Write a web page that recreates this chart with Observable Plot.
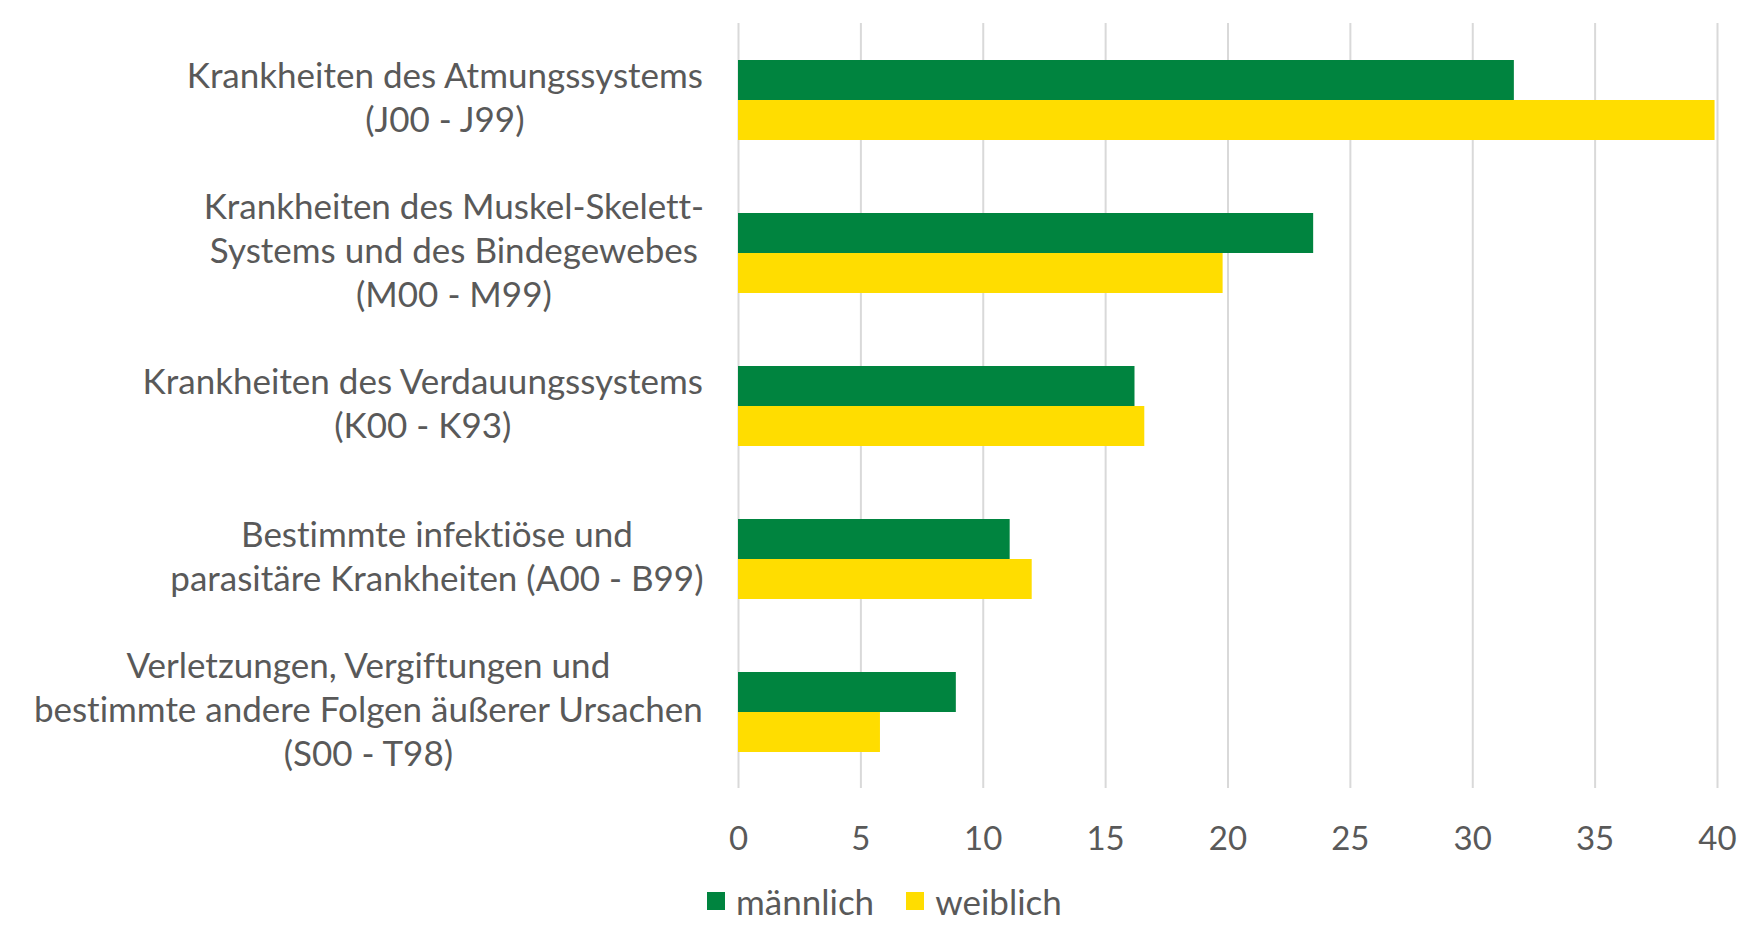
<!DOCTYPE html>
<html>
<head>
<meta charset="utf-8">
<script src="https://cdn.jsdelivr.net/npm/d3@7"></script>
<script src="https://cdn.jsdelivr.net/npm/@observablehq/plot@0.6"></script>
<style>
  html, body { margin: 0; padding: 0; background: #ffffff; }
  #chart svg { display: block; font-variant-ligatures: none; }
  #legend {
    display: flex; align-items: center; justify-content: flex-start;
    margin-left: 707px; margin-top: 13px; height: 36px;
    font-family: Lato, "Open Sans", sans-serif; font-size: 35px; color: #595959;
    font-variant-ligatures: none;
  }
  #legend .item { display: flex; align-items: center; margin-right: 32px; }
  #legend .sw { width: 18px; height: 18px; margin-right: 11px; display: inline-block; }
</style>
</head>
<body>
<div id="chart"></div>
<div id="legend"></div>
<script>
// ---- data ----
const categories = [
  "Krankheiten des Atmungssystems\n(J00 - J99)",
  "Krankheiten des Muskel-Skelett-\nSystems und des Bindegewebes\n(M00 - M99)",
  "Krankheiten des Verdauungssystems\n(K00 - K93)",
  "Bestimmte infektiöse und\nparasitäre Krankheiten (A00 - B99)",
  "Verletzungen, Vergiftungen und\nbestimmte andere Folgen äußerer Ursachen\n(S00 - T98)"
];
const series = ["männlich", "weiblich"];
const maennlich = [31.7, 23.5, 16.2, 11.1, 8.9];
const weiblich = [39.9, 19.8, 16.6, 12.0, 5.8];
const xTicks = [0, 5, 10, 15, 20, 25, 30, 35, 40];
const seriesColors = ["#00843F", "#FFDD00"];

// ---- table for Plot ----
const table = categories.flatMap((c, i) => [
  {category: c, sex: series[0], value: maennlich[i]},
  {category: c, sex: series[1], value: weiblich[i]}
]);

const FONT = 35;
const TICKFONT = 33;
const FONTFAMILY = "Lato";
const TEXT = "#595959";
const ctx = document.createElement("canvas").getContext("2d");
ctx.font = `${FONT}px ${FONTFAMILY}`;
const blockWidth = c => Math.max(...c.split("\n").map(l => ctx.measureText(l).width));
const labelGap = 35;

const labelMarks = categories.map(c => Plot.text([c], {
  fy: d => d,
  text: d => d,
  frameAnchor: "left",
  textAnchor: "middle",
  lineAnchor: "middle",
  lineHeight: 43.8 / FONT,
  dx: -(labelGap + blockWidth(c) / 2),
  dy: -4,
  fontSize: FONT,
  fill: TEXT
}));

const chart = Plot.plot({
  width: 1760,
  height: 870,
  marginLeft: 738,
  marginRight: 43,
  marginTop: 22,
  marginBottom: 81,
  style: {fontFamily: FONTFAMILY, fontSize: TICKFONT + "px", color: TEXT, background: "#ffffff"},
  x: {domain: [0, 40], ticks: xTicks, tickSize: 0, tickPadding: 38, label: null},
  y: {domain: series, paddingInner: 0, paddingOuter: 0.903, axis: null},
  fy: {domain: categories, padding: 0, axis: null},
  color: {domain: series, range: seriesColors},
  marks: [
    Plot.gridX(xTicks, {stroke: "#d9d9d9", strokeOpacity: 1, strokeWidth: 2}),
    Plot.barX(table, {fy: "category", y: "sex", x: "value", fill: "sex"}),
    ...labelMarks
  ]
});
document.getElementById("chart").appendChild(chart);

// ---- legend ----
const legend = document.getElementById("legend");
series.forEach((s, i) => {
  const item = document.createElement("span");
  item.className = "item";
  const sw = document.createElement("span");
  sw.className = "sw";
  sw.style.background = seriesColors[i];
  item.appendChild(sw);
  item.appendChild(document.createTextNode(s));
  legend.appendChild(item);
});
</script>
</body>
</html>
